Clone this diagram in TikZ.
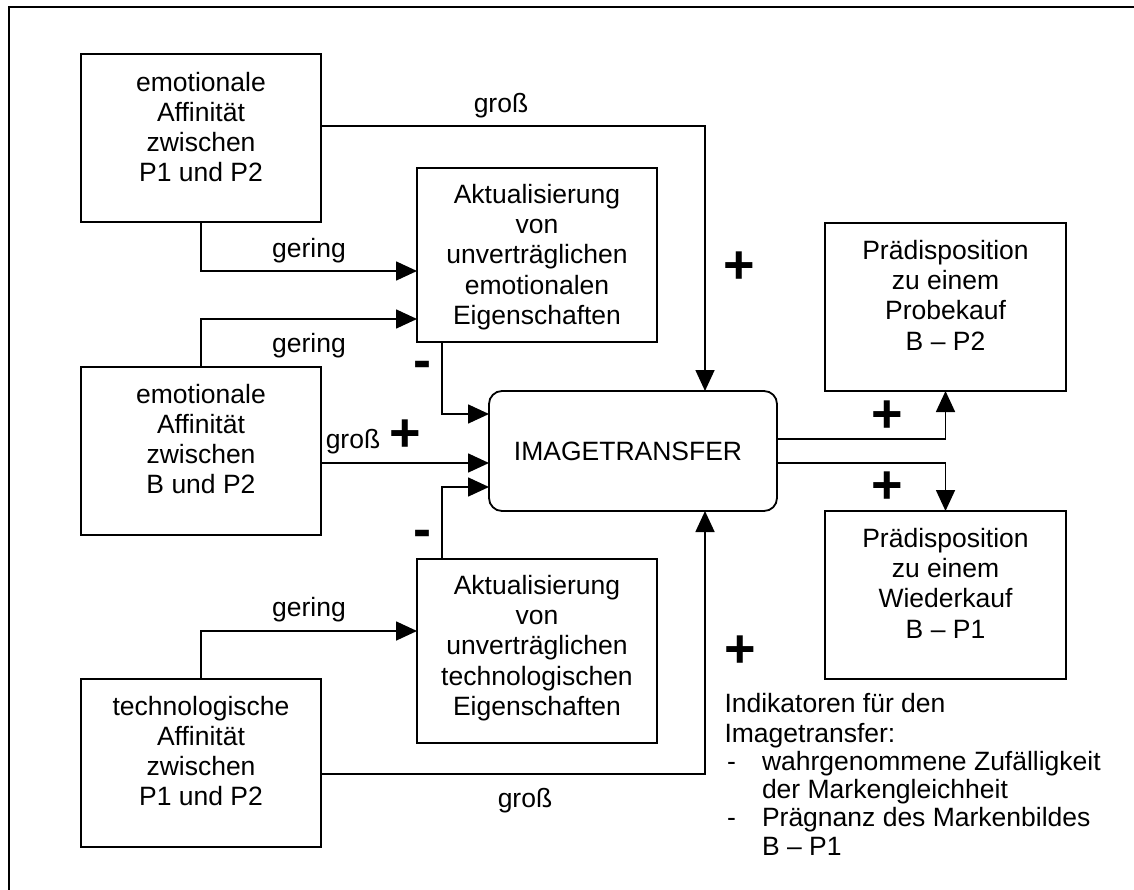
\documentclass[tikz,border=0pt]{standalone}
\usepackage{fontspec}
\setmainfont{Liberation Sans}
\usetikzlibrary{arrows.meta}
\begin{document}
\begin{tikzpicture}[x=1pt,y=-1pt,
  every node/.style={inner sep=0pt, outer sep=0pt},
  box/.style={draw, line width=1.8pt, minimum width=240pt, minimum height=168pt},
  itbox/.style={draw, line width=1.8pt, rounded corners=13pt, minimum width=288pt, minimum height=120pt,
    font=\fontsize{26.5}{30.3}\selectfont},
  txt/.style={align=center, font=\fontsize{26.5}{30.3}\selectfont},
  lbl/.style={font=\fontsize{26.5}{30.3}\selectfont},
  sgn/.style={font=\fontsize{54}{60}\selectfont\bfseries},
  arr/.style={-{Triangle[length=21pt,width=19pt]}, line width=1.7pt}
]
\useasboundingbox (0,0) rectangle (1134,890);
% frame
\draw[line width=2pt] (8.6,890) -- (8.6,6.7) -- (1134,6.7);

% boxes
\node[box] (A) at (201,138) {};
\node[box] (B) at (201,451) {};
\node[box] (C) at (201,763) {};
\node[box, minimum height=174pt] (D) at (537,255) {};
\node[box, minimum height=184pt] (E) at (537,651) {};
\node[itbox] (IT) at (633,451) {\hspace*{-10pt}IMAGETRANSFER};
\node[box, minimum width=241pt] (F) at (945.5,307) {};
\node[box, minimum width=241pt] (G) at (945.5,595) {};

% box texts
\node[txt] (tA) at (201,127) {emotionale\\Affinität\\zwischen\\P1 und P2};
\node[txt] (tB) at (201,439) {emotionale\\Affinität\\zwischen\\B und P2};
\node[txt] (tC) at (201,751) {technologische\\Affinität\\zwischen\\P1 und P2};
\node[txt] (tD) at (537,257) {Aktualisierung\\von\\unverträglichen\\emotionalen\\Eigenschaften};
\node[txt] (tE) at (537,648) {Aktualisierung\\von\\unverträglichen\\technologischen\\Eigenschaften};
\node[txt] (tF) at (945.5,295) {Prädisposition\\zu einem\\Probekauf\\B – P2};
\node[txt] (tG) at (945.5,583) {Prädisposition\\zu einem\\Wiederkauf\\B – P1};

% connectors
\draw[arr] ([yshift=12pt]A.east) -| ([xshift=72pt]IT.north);
\draw[arr] (A.south) |- ([yshift=-16pt]D.west);
\draw[arr] (B.north) |- ([yshift=-64pt]D.west);
\draw[arr] ([xshift=-95pt]D.south) |- ([yshift=37pt]IT.west);
\draw[arr] ([yshift=-12pt]B.east) -- ([yshift=-12pt]IT.west);
\draw[arr] ([xshift=-95pt]E.north) |- ([yshift=-36pt]IT.west);
\draw[arr] (C.north) |- ([yshift=20pt]E.west);
\draw[arr] ([yshift=-11pt]C.east) -| ([xshift=72pt]IT.south);
\draw[arr] ([yshift=12pt]IT.east) -| (F.south);
\draw[arr] ([yshift=-12pt]IT.east) -| (G.north);

% labels
\node[lbl] (l1) at (501,106) {groß};
\node[lbl] (l2) at (309,251) {gering};
\node[lbl] (l3) at (309,346) {gering};
\node[lbl] (l4) at (353,442) {groß};
\node[lbl] (l5) at (309,610) {gering};
\node[lbl] (l6) at (525,801) {groß};

% signs
\node[sgn] (p1) at (405,436) {+};
\node[sgn] (p2) at (739,268) {+};
\node[sgn] (p3) at (740,652) {+};
\node[sgn] (p4) at (887,417) {+};
\node[sgn] (p5) at (887,488) {+};
\node[sgn] (m1) at (422,370) {-};
\node[sgn] (m2) at (422,539) {-};

% indicators
\node[lbl, anchor=base west] (i1) at (724.5,712) {Indikatoren für den};
\node[lbl, anchor=base west] (i2) at (724.5,742) {Imagetransfer:};
\node[lbl, anchor=base west] (d1) at (727,770) {-};
\node[lbl, anchor=base west] (i3) at (762,770) {wahrgenommene Zufälligkeit};
\node[lbl, anchor=base west] (i4) at (762,798) {der Markengleichheit};
\node[lbl, anchor=base west] (d2) at (727,826) {-};
\node[lbl, anchor=base west] (i5) at (762,826) {Prägnanz des Markenbildes};
\node[lbl, anchor=base west] (i6) at (762,855) {B – P1};
\end{tikzpicture}
\end{document}
